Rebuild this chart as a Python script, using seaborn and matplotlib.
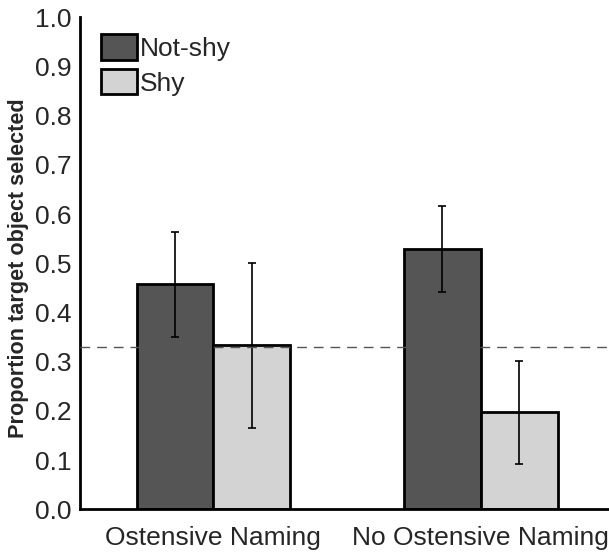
import matplotlib
matplotlib.use("Agg")
import matplotlib.pyplot as plt
import seaborn as sns
import pandas as pd
import numpy as np

conditions = ["Ostensive Naming", "No Ostensive Naming"]
groups = ["Not-shy", "Shy"]
not_shy_means = [0.457, 0.529]
shy_means = [0.333, 0.197]
not_shy_err = [0.106, 0.087]
shy_err = [0.167, 0.105]
chance_level = 0.33
yticks = [0.0, 0.1, 0.2, 0.3, 0.4, 0.5, 0.6, 0.7, 0.8, 0.9, 1.0]

df = pd.DataFrame({
    "condition": conditions * 2,
    "group": [groups[0]] * 2 + [groups[1]] * 2,
    "value": not_shy_means + shy_means,
    "err": not_shy_err + shy_err,
})

sns.set_style("white")
plt.rcParams["font.family"] = ["Liberation Sans", "DejaVu Sans"]

fig = plt.figure(figsize=(6.09, 5.53), dpi=100)
ax = fig.add_axes([0.131, 0.079, 0.869, 0.890])

palette = {"Not-shy": "#555555", "Shy": "#d3d3d3"}
sns.barplot(data=df, x="condition", y="value", hue="group", order=conditions,
            hue_order=groups, palette=palette, width=0.575, errorbar=None,
            edgecolor="black", linewidth=2, saturation=1, ax=ax, zorder=2)

bars = [p for p in ax.patches if p.get_height() > 0]
for p in bars:
    cx = p.get_x() + p.get_width() / 2
    h = p.get_height()
    idx = df.index[np.isclose(df["value"], h)][0]
    ax.errorbar(cx, h, yerr=df.loc[idx, "err"], fmt="none", ecolor="black",
                elinewidth=1.2, capsize=3, capthick=1.2, zorder=3)

ax.axhline(chance_level, color="#555555", linestyle=(0, (7, 5)), linewidth=1.0, zorder=4)

ax.set_xlim(-0.5, 1.48)
ax.set_ylim(0, 1.0)
ax.set_yticks(yticks)
ax.set_yticklabels([f"{t:.1f}" for t in yticks], fontsize=19)
ax.tick_params(axis="x", labelsize=19, length=0, pad=12)
ax.tick_params(axis="y", length=0, pad=6)
ax.set_xlabel("")
ax.set_ylabel("Proportion target object selected", fontsize=15.6, fontweight="bold")
ax.yaxis.set_label_coords(-0.096, 0.49)

for s in ["top", "right"]:
    ax.spines[s].set_visible(False)
for s in ["left", "bottom"]:
    ax.spines[s].set_color("black")
    ax.spines[s].set_linewidth(2)

leg = ax.legend(loc="upper left", bbox_to_anchor=(0.04, 0.965), frameon=False,
                fontsize=19, handlelength=1.37, handleheight=1.1, handletextpad=0.12,
                labelspacing=0.3, borderaxespad=0, borderpad=0)

fig.savefig("out.png", dpi=100)
